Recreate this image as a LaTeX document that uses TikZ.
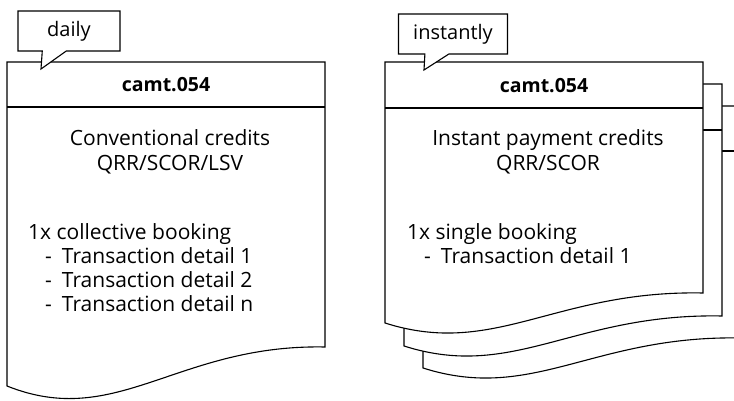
\documentclass[tikz,border=0pt]{standalone}
\usepackage{fontspec}
\setmainfont{Open Sans}
\usetikzlibrary{shapes.callouts}

%% document sheet: x0, x1, top, header line, bottom left, wave drop
\newcommand{\camtsheet}[6]{
	\draw[sheet] (#1,#5) -- (#1,#3) -- (#2,#3) -- (#2,{#5-#6})
		.. controls ({#1+170},{#5-#6-3}) and ({#1+110},{#5+#6+5}) .. (#1,#5) -- cycle;
	\draw[sheet] (#1,#4) -- (#2,#4);
}

\begin{document}
\begin{tikzpicture}[
	x=1pt, y=-1pt,
	sheet/.style={draw, fill=white, line width=1.1pt},
	bubble/.style={rectangle callout, draw, fill=white, line width=1.1pt,
		callout pointer width=24pt, minimum height=40pt, inner sep=0pt,
		font=\fontsize{20}{24}\selectfont},
	title/.style={font=\fontsize{19.5}{24}\selectfont\bfseries},
	body/.style={font=\fontsize{21}{24.5}\selectfont, inner sep=0pt, align=center},
	items/.style={font=\fontsize{21}{24}\selectfont, inner sep=0pt, align=left, anchor=north west}
]
\clip (0,0) rectangle (734,401);
\useasboundingbox (0,0) rectangle (734,401);

%% conventional credits, daily
\camtsheet{7}{325}{62}{107}{386}{39}
\node[bubble, minimum width=102pt, callout absolute pointer={(41,69)}] (daily) at (69,31) {daily};
\node[title] (head1) at (166,85) {camt.054};
\node[body] (kind1) at (170,152) {Conventional credits\\QRR/SCOR/LSV};
\node[items] (list1) at (28,223) {1x collective booking\\
	\hspace{17pt}-\hspace{10pt}Transaction detail 1\\
	\hspace{17pt}-\hspace{10pt}Transaction detail 2\\
	\hspace{17pt}-\hspace{10pt}Transaction detail n};

%% instant payment credits, stacked sheets
\camtsheet{423}{741}{106}{151}{368}{30}
\camtsheet{404}{722}{84}{130}{346}{30}
\camtsheet{385}{703}{62}{108}{323}{30}
\node[bubble, minimum width=109pt, callout absolute pointer={(424,70)}] (instantly) at (453,34) {instantly};
\node[title] (head2) at (544,86) {camt.054};
\node[body] (kind2) at (548,152) {Instant payment credits\\QRR/SCOR};
\node[items] (list2) at (407,223) {1x single booking\\
	\hspace{17pt}-\hspace{10pt}Transaction detail 1};

\end{tikzpicture}
\end{document}
